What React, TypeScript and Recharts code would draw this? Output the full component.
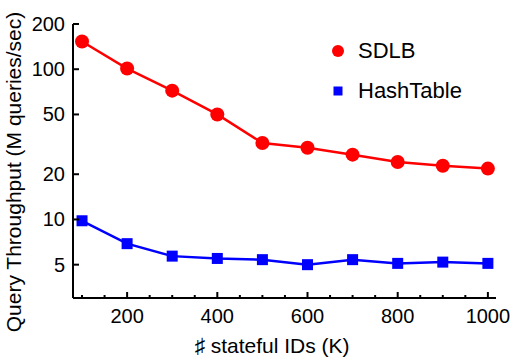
import { LineChart, Line, XAxis, YAxis } from 'recharts';

const ids = [100, 200, 300, 400, 500, 600, 700, 800, 900, 1000];
const sdlb = [153, 101, 72, 50, 32.3, 30, 27, 24.1, 22.8, 21.8];
const hashTable = [9.8, 6.9, 5.7, 5.5, 5.4, 5.0, 5.4, 5.1, 5.2, 5.1];

const xTicks = [100, 150, 200, 250, 300, 350, 400, 450, 500, 550, 600, 650, 700, 750, 800, 850, 900, 950, 1000];
const xLabels = [200, 400, 600, 800, 1000];
const yTicks = [5, 10, 20, 50, 100, 200];

const FONT = '"Liberation Sans", Arial, sans-serif';

const chartData = ids.map((id, i) => ({ id, sdlb: sdlb[i], hashTable: hashTable[i] }));

function XTick(props: any) {
  const { x, y, payload } = props;
  const major = xLabels.includes(payload.value);
  return (
    <g>
      <line x1={x} y1={y} x2={x} y2={y - (major ? 6 : 3)} stroke="#000" strokeWidth={2} />
      {major && (
        <text x={x} y={y + 25} textAnchor="middle" fontSize={20} fontFamily={FONT} fill="#000">
          {payload.value}
        </text>
      )}
    </g>
  );
}

function YTick(props: any) {
  const { x, y, payload } = props;
  return (
    <g>
      <line x1={x} y1={y} x2={x + 6} y2={y} stroke="#000" strokeWidth={2} />
      <text x={x - 8} y={y + 7} textAnchor="end" fontSize={20} fontFamily={FONT} fill="#000">
        {payload.value}
      </text>
    </g>
  );
}

function SquareDot(props: any) {
  const { cx, cy } = props;
  if (cx == null || cy == null) return null;
  return <rect x={cx - 5.5} y={cy - 5.5} width={11} height={11} fill="#0000ff" />;
}

export default function App() {
  return (
    <div style={{ position: 'absolute', left: 0, top: 0, width: 514, height: 362, background: '#fff' }}>
      <LineChart width={514} height={362} data={chartData} margin={{ top: 24, right: 18, bottom: 34, left: 18 }}>
        <XAxis
          dataKey="id"
          type="number"
          domain={[80, 1018]}
          ticks={xTicks}
          interval={0}
          allowDataOverflow
          tick={<XTick />}
          tickSize={0}
          tickMargin={0}
          tickLine={false}
          axisLine={{ stroke: '#000', strokeWidth: 2 }}
          height={30}
        />
        <YAxis
          scale="log"
          domain={[3, 200]}
          ticks={yTicks}
          interval={0}
          allowDataOverflow
          tick={<YTick />}
          tickSize={0}
          tickMargin={0}
          tickLine={false}
          axisLine={{ stroke: '#000', strokeWidth: 2 }}
          width={55}
        />
        <Line
          dataKey="sdlb"
          stroke="#ff0000"
          strokeWidth={2.5}
          dot={{ r: 7, fill: '#ff0000', stroke: 'none' }}
          isAnimationActive={false}
        />
        <Line
          dataKey="hashTable"
          stroke="#0000ff"
          strokeWidth={2.5}
          dot={<SquareDot />}
          isAnimationActive={false}
        />
        <text
          transform="translate(21, 172) rotate(-90)"
          textAnchor="middle"
          fontSize={21}
          fontFamily={FONT}
          fill="#000"
        >
          Query Throughput (M queries/sec)
        </text>
        <text x={272} y={353} textAnchor="middle" fontSize={21} fontFamily={FONT} fill="#000">
          ♯ stateful IDs (K)
        </text>
      </LineChart>
      <div style={{ position: 'absolute', left: 330, top: 37, fontFamily: FONT, fontSize: 22, lineHeight: '28px' }}>
        <div style={{ display: 'flex', alignItems: 'center', height: 28 }}>
          <svg width={28} height={28}>
            <circle cx={8} cy={14} r={6} fill="#ff0000" />
          </svg>
          <span>SDLB</span>
        </div>
        <div style={{ display: 'flex', alignItems: 'center', height: 28, marginTop: 12 }}>
          <svg width={28} height={28}>
            <rect x={3.5} y={9.5} width={9} height={9} fill="#0000ff" />
          </svg>
          <span>HashTable</span>
        </div>
      </div>
    </div>
  );
}
